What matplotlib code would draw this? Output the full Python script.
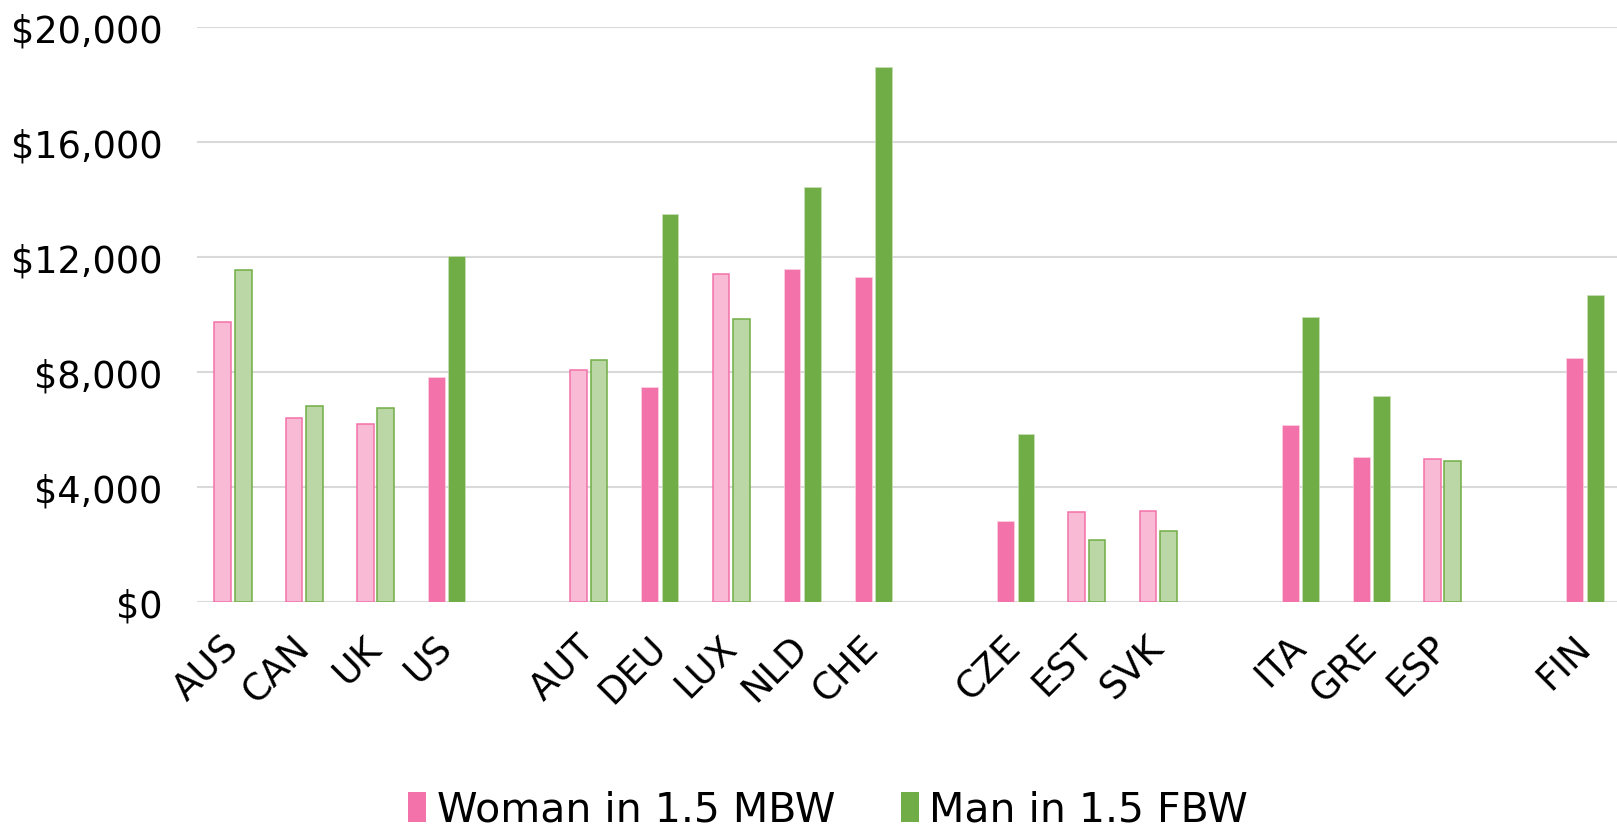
# ============================================================
# Section 1. Setup and Imports
# ============================================================

import matplotlib

matplotlib.use("Agg")

import matplotlib.pyplot as plt
from matplotlib.patches import Patch
from matplotlib.ticker import FuncFormatter

# ============================================================
# Section 2. Data
# ============================================================

# Country groups; one empty slot is left between groups.
country_groups = [
    ["AUS", "CAN", "UK", "US"],
    ["AUT", "DEU", "LUX", "NLD", "CHE"],
    ["CZE", "EST", "SVK"],
    ["ITA", "GRE", "ESP"],
    ["FIN"],
]

# Values in the same order as the flattened groups.
woman_in_mbw = [9720, 6400, 6190, 7800,
                8060, 7480, 11390, 11560, 11280,
                2800, 3120, 3140,
                6150, 5020, 4960,
                8470]
man_in_fbw = [11540, 6800, 6750, 12030,
              8410, 13490, 9820, 14420, 18600,
              5830, 2130, 2460,
              9910, 7140, 4890,
              10680]

# Countries drawn with solid bars (others are pale with an outline).
significant = [False, False, False, True,
               False, True, False, True, True,
               True, False, False,
               True, True, False,
               True]

y_ticks = [0, 4000, 8000, 12000, 16000, 20000]
legend_labels = ["Woman in 1.5 MBW", "Man in 1.5 FBW"]

# ============================================================
# Section 3. Styling
# ============================================================

PINK = "#F272A9"
PINK_LIGHT = "#F8BAD5"
GREEN = "#70AD47"
GREEN_LIGHT = "#BBD7A5"
GRID = "#D9D9D9"

plt.rcParams["font.family"] = ["DejaVu Sans"]
FONT_SIZE = 26.5
LEGEND_SIZE = 29.5

# ============================================================
# Section 4. Build the chart
# ============================================================

# Slot positions: consecutive within a group, one blank slot between groups.
countries = []
positions = []
slot = 0
for group in country_groups:
    for name in group:
        countries.append(name)
        positions.append(slot)
        slot += 1
    slot += 1
n_slots = slot - 1

fig = plt.figure(figsize=(16.17, 8.29), dpi=100)
ax = fig.add_axes([0.1221, 0.273, 0.8801, 0.6936])

bar_width = 0.235
offset = 0.143

for pos, w, m, solid in zip(positions, woman_in_mbw, man_in_fbw, significant):
    if solid:
        ax.bar(pos - offset, w, width=bar_width, color=PINK,
               edgecolor="#FBD3E4", linewidth=0.5, zorder=3)
        ax.bar(pos + offset, m, width=bar_width, color=GREEN,
               edgecolor="#C9E0B8", linewidth=0.5, zorder=3)
    else:
        ax.bar(pos - offset, w, width=bar_width, color=PINK_LIGHT,
               edgecolor=PINK, linewidth=1.1, zorder=3)
        ax.bar(pos + offset, m, width=bar_width, color=GREEN_LIGHT,
               edgecolor=GREEN, linewidth=1.1, zorder=3)

# Axis limits and gridlines.
ax.set_xlim(-0.5, n_slots - 0.5)
ax.set_ylim(0, 20000)
ax.set_yticks(y_ticks)
ax.yaxis.set_major_formatter(FuncFormatter(lambda v, _: f"${v:,.0f}"))
ax.grid(axis="y", color=GRID, linewidth=1.5, zorder=0)
ax.set_axisbelow(True)

for spine in ax.spines.values():
    spine.set_visible(False)

# Tick labels.
ax.tick_params(axis="y", length=0, pad=25, labelsize=FONT_SIZE)
ax.tick_params(axis="x", length=0, pad=28)
ax.set_xticks(positions)
ax.set_xticklabels(countries, fontsize=FONT_SIZE, rotation=45,
                   ha="right", va="center", rotation_mode="anchor")

# Legend centred below the chart.
handles = [Patch(facecolor=PINK, edgecolor="none"),
           Patch(facecolor=GREEN, edgecolor="none")]
fig.legend(handles, legend_labels, loc="center",
           bbox_to_anchor=(828 / 1617, 18 / 829), ncol=2, frameon=False,
           fontsize=LEGEND_SIZE, handlelength=0.45, handleheight=0.75,
           handletextpad=0.25, columnspacing=1.6)

fig.savefig("out.png", dpi=100)
plt.close(fig)
